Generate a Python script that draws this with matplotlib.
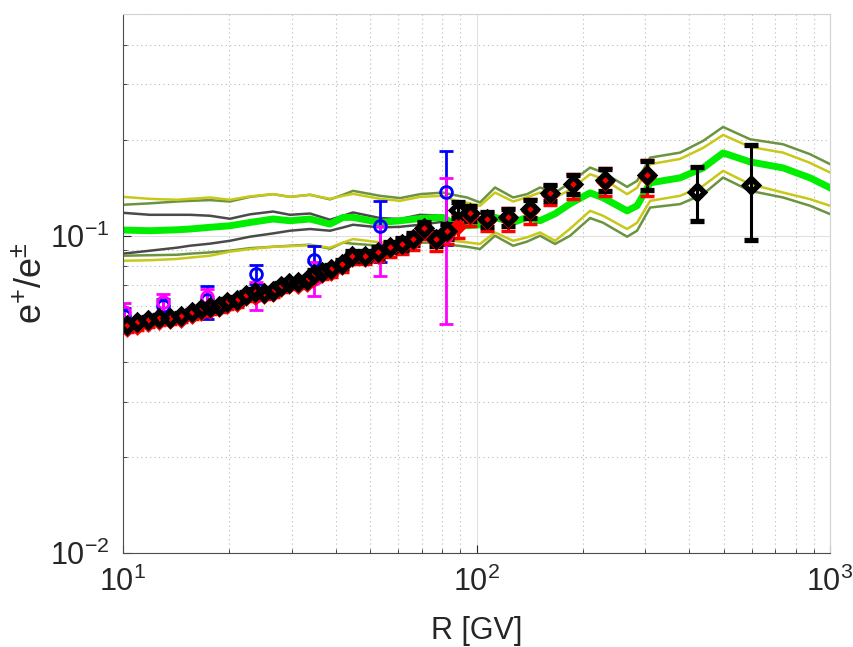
import numpy as np
import matplotlib
matplotlib.use('Agg')
import matplotlib.pyplot as plt

plt.rcParams['font.family'] = ['Liberation Sans', 'DejaVu Sans']
plt.rcParams['mathtext.fontset'] = 'custom'
plt.rcParams['mathtext.rm'] = 'Liberation Sans'
plt.rcParams['mathtext.it'] = 'Liberation Sans:italic'
plt.rcParams['mathtext.sf'] = 'Liberation Sans'

# model curves
band_R = [10.0, 11.92, 14.22, 15.47, 17.62, 20.07, 22.87, 26.57, 29.68, 33.81, 38.51, 41.92,
          44.74, 53.33, 60.76, 69.22, 80.39, 85.81, 94.0, 102.3, 112.8, 126.9, 138.9, 151.2,
          166.8, 183.9, 209.5, 228.0, 266.6, 284.5, 309.7, 376.5, 437.3, 498.1, 594.0, 736.3,
          877.7, 1000.0]
green = [0.1042, 0.1037, 0.1044, 0.1050, 0.1063, 0.1075, 0.1101, 0.1129, 0.1115, 0.1129, 0.1088, 0.1142,
         0.1142, 0.1101, 0.1115, 0.1133, 0.1142, 0.1093, 0.1075, 0.1083, 0.1142, 0.1101, 0.1142, 0.1115,
         0.1173, 0.1261, 0.1365, 0.1317, 0.1198, 0.1243, 0.1468, 0.1522, 0.1636, 0.1824, 0.1709, 0.1636,
         0.1522, 0.1416]
olive_hi = [0.1252, 0.1265, 0.1282, 0.1288, 0.1295, 0.1282, 0.1326, 0.1352, 0.1326, 0.1346, 0.1302, 0.1346,
            0.1385, 0.1336, 0.1314, 0.1352, 0.1368, 0.1346, 0.1320, 0.1273, 0.1419, 0.1320, 0.1352, 0.1419,
            0.1368, 0.1468, 0.1640, 0.1582, 0.1426, 0.1489, 0.1763, 0.1828, 0.1990, 0.2202, 0.2014, 0.1942,
            0.1807, 0.1681]
yellow_hi = [0.1326, 0.1307, 0.1298, 0.1307, 0.1320, 0.1298, 0.1331, 0.1352, 0.1326, 0.1346, 0.1307, 0.1336,
             0.1355, 0.1307, 0.1288, 0.1326, 0.1336, 0.1298, 0.1270, 0.1243, 0.1368, 0.1282, 0.1322, 0.1368,
             0.1320, 0.1395, 0.1563, 0.1511, 0.1352, 0.1416, 0.1681, 0.1746, 0.1891, 0.2078, 0.1905, 0.1828,
             0.1697, 0.1582]
yellow_lo = [0.0834, 0.0837, 0.0845, 0.0853, 0.0865, 0.0891, 0.0908, 0.0923, 0.0927, 0.0934, 0.0917, 0.0951,
             0.0976, 0.0953, 0.0953, 0.0976, 0.0976, 0.0964, 0.0953, 0.0942, 0.1024, 0.0964, 0.0988, 0.1024,
             0.0964, 0.1052, 0.1198, 0.1156, 0.1050, 0.1099, 0.1288, 0.1336, 0.1436, 0.1601, 0.1454, 0.1368,
             0.1304, 0.1243]
olive_lo = [0.0865, 0.0868, 0.0871, 0.0878, 0.0886, 0.0897, 0.0914, 0.0923, 0.0930, 0.0937, 0.0910, 0.0951,
            0.0944, 0.0930, 0.0927, 0.0951, 0.0951, 0.0934, 0.0923, 0.0908, 0.1000, 0.0930, 0.0958, 0.1000,
            0.0942, 0.1000, 0.1137, 0.1099, 0.0993, 0.1037, 0.1227, 0.1258, 0.1352, 0.1525, 0.1385, 0.1320,
            0.1243, 0.1170]
# dark grey band stops near 86 GV
grey_R = band_R[:18]
grey_hi = [0.1181, 0.1164, 0.1164, 0.1164, 0.1156, 0.1131, 0.1168, 0.1192, 0.1164, 0.1175, 0.1123, 0.1156,
           0.1184, 0.1137, 0.1129, 0.1164, 0.1156, 0.1115]
grey_lo = [0.0878, 0.0897, 0.0917, 0.0930, 0.0944, 0.0964, 0.0993, 0.1017, 0.1037, 0.1050, 0.1037, 0.1062,
           0.1083, 0.1062, 0.1067, 0.1083, 0.1107, 0.1099]

# data points
ams_R = [10.26, 10.96, 11.77, 12.64, 13.59, 14.59, 15.67, 16.62, 17.62, 18.69,
         19.69, 21.01, 22.28, 23.63, 25.06, 26.57, 27.99, 29.49, 31.26, 33.15,
         34.70, 36.55, 38.76, 41.65, 44.45, 48.37, 52.66, 56.75, 61.44, 66.13,
         71.04, 76.81, 82.51, 88.67, 95.85, 107.1, 122.8, 141.2, 161.4, 187.8,
         230.9, 303.6, 420.6, 597.7]
ams_f = [0.0525, 0.0534, 0.0543, 0.0551, 0.0551, 0.0560, 0.0574, 0.0588, 0.0595, 0.0602,
         0.0620, 0.0625, 0.0652, 0.0663, 0.0662, 0.0671, 0.0696, 0.0712, 0.0713, 0.0726,
         0.0759, 0.0770, 0.0786, 0.0815, 0.0865, 0.0865, 0.0886, 0.0922, 0.0942, 0.0976,
         0.1060, 0.0976, 0.1033, 0.1207, 0.1177, 0.1128, 0.1147, 0.1216, 0.1365, 0.1452,
         0.1500, 0.1555, 0.1378, 0.1447]
ams_err = [0.0010, 0.0010, 0.0010, 0.0010, 0.0010, 0.0010, 0.0010, 0.0010, 0.0010, 0.0010,
           0.0014, 0.0014, 0.0014, 0.0014, 0.0014, 0.0014, 0.0014, 0.0014, 0.0014, 0.0014,
           0.0020, 0.0022, 0.0024, 0.0026, 0.0030, 0.0030, 0.0033, 0.0036, 0.0040, 0.0043,
           0.0048, 0.0050, 0.0055, 0.0072, 0.0065, 0.0060, 0.0070, 0.0080, 0.0075, 0.0100,
           0.0120, 0.0160, 0.0265, 0.0480]

ams13_R = ams_R[:42]
ams13_f = [0.0512, 0.0520, 0.0530, 0.0540, 0.0542, 0.0548, 0.0562, 0.0575, 0.0583, 0.0590,
           0.0605, 0.0612, 0.0640, 0.0648, 0.0650, 0.0660, 0.0682, 0.0698, 0.0700, 0.0712,
           0.0742, 0.0756, 0.0770, 0.0800, 0.0850, 0.0850, 0.0870, 0.0905, 0.0925, 0.0958,
           0.1035, 0.0960, 0.1010, 0.1075, 0.1150, 0.1110, 0.1130, 0.1195, 0.1345, 0.1440,
           0.1480, 0.1530]
ams13_err = [0.0015, 0.0015, 0.0015, 0.0015, 0.0015, 0.0015, 0.0015, 0.0015, 0.0015, 0.0015,
             0.0018, 0.0018, 0.0018, 0.0018, 0.0018, 0.0018, 0.0018, 0.0018, 0.0018, 0.0018,
             0.0025, 0.0027, 0.0030, 0.0032, 0.0036, 0.0036, 0.0040, 0.0045, 0.0050, 0.0055,
             0.0060, 0.0065, 0.0070, 0.0090, 0.0080, 0.0075, 0.0095, 0.0110, 0.0095, 0.0130,
             0.0150, 0.0200]

pam_R = [10.07, 12.98, 17.29, 23.77, 34.7, 53.3, 82.0]
blue_f = [0.0560, 0.0602, 0.0625, 0.0757, 0.0840, 0.1075, 0.1377]
blue_lo = [0.0030, 0.0030, 0.0078, 0.0050, 0.0080, 0.0250, 0.0440]
blue_hi = [0.0030, 0.0030, 0.0070, 0.0053, 0.0086, 0.0215, 0.0470]
mag_f = [0.0577, 0.0617, 0.0643, 0.0645, 0.0730, 0.0900, 0.1000]
mag_lo = [0.0035, 0.0038, 0.0037, 0.0061, 0.0082, 0.0152, 0.0473]
mag_hi = [0.0035, 0.0038, 0.0037, 0.0068, 0.0094, 0.0175, 0.0520]

fig = plt.figure(figsize=(8.54, 6.47), dpi=100)
ax = fig.add_axes([0.144, 0.1453, 0.828, 0.8331])

c_olive = '#6b9440'
c_yellow = '#c8c81a'
c_grey = '#4a4a4a'
c_green = '#00ee00'

ax.plot(grey_R, grey_hi, color=c_grey, lw=1.8)
ax.plot(grey_R, grey_lo, color=c_grey, lw=1.8)
ax.plot(band_R, olive_hi, color=c_olive, lw=1.8)
ax.plot(band_R, olive_lo, color=c_olive, lw=1.8)
ax.plot(band_R, yellow_hi, color=c_yellow, lw=1.8)
ax.plot(band_R, yellow_lo, color=c_yellow, lw=1.8)
ax.plot(band_R, green, color=c_green, lw=5)

ax.errorbar(pam_R, blue_f, yerr=[blue_lo, blue_hi], fmt='o', color='blue', mfc='none',
            mec='blue', ms=8.5, mew=2, elinewidth=2, capsize=5, capthick=2)
ax.errorbar(pam_R, mag_f, yerr=[mag_lo, mag_hi], fmt='o', color='magenta', mfc='none',
            mec='magenta', ms=8.5, mew=2, elinewidth=2, capsize=5, capthick=2)
ax.errorbar(ams13_R, ams13_f, yerr=ams13_err, fmt='D', color='red', mfc='red',
            mec='red', ms=7.5, mew=2.5, elinewidth=2.2, capsize=5, capthick=2.2)
ax.errorbar(ams_R, ams_f, yerr=ams_err, fmt='D', color='black', mfc='none',
            mec='black', ms=7.5, mew=3.8, elinewidth=2.2, capsize=5, capthick=2.2)

ax.set_xscale('log')
ax.set_yscale('log')
ax.set_xlim(10, 1000)
ax.set_ylim(0.01, 0.5)

ax.set_xticks([10, 100, 1000])
ax.set_xticklabels([r'$10^{1}$', r'$10^{2}$', r'$10^{3}$'])
ax.set_yticks([0.01, 0.1])
ax.set_yticklabels([r'$10^{-2}$', r'$10^{-1}$'])

ax.grid(True, which='major', color='0.88', linestyle='-', linewidth=0.8)
ax.grid(True, which='minor', color='0.72', linestyle=(0, (1, 3)), linewidth=0.8)
ax.set_axisbelow(True)

ax.tick_params(which='both', direction='in', colors='0.15', labelsize=22, top=False, right=False)
ax.tick_params(which='major', length=6, width=0.8, pad=10)
ax.tick_params(which='minor', length=3, width=0.6)
for s in ['left', 'bottom']:
    ax.spines[s].set_color('0.3')
for s in ['top', 'right']:
    ax.spines[s].set_color('0.82')

ax.set_xlabel('R [GV]', fontsize=22, color='0.15', labelpad=13)
ax.set_ylabel(r'$\mathrm{e^{+}/e^{\pm}}$', fontsize=26, color='0.15', labelpad=0)

fig.savefig('out.png', dpi=100)
